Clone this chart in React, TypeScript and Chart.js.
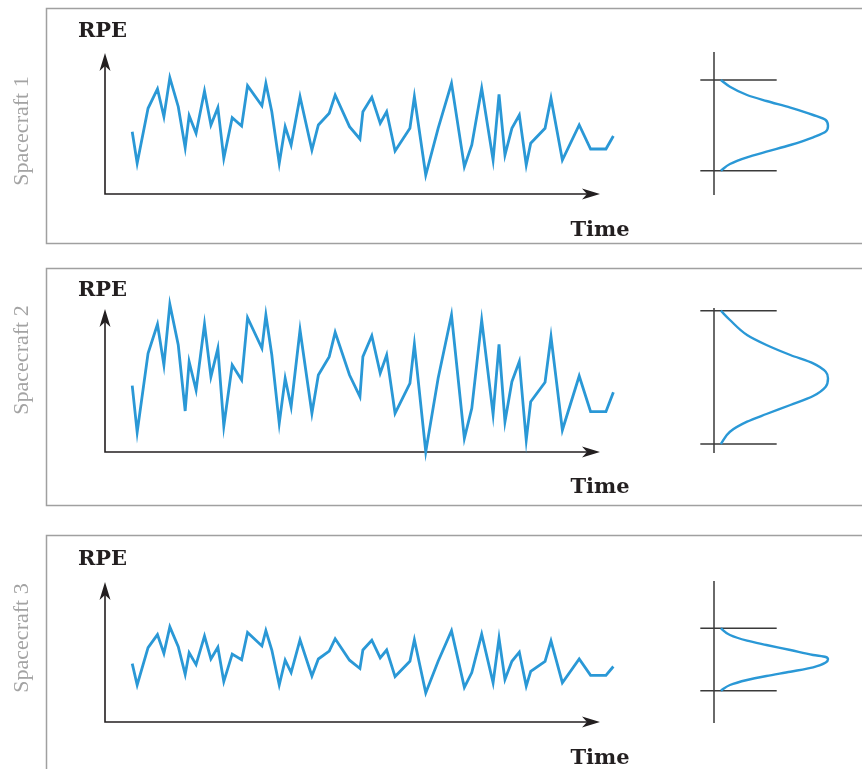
import React, { useEffect, useRef } from "react";
import { Chart, registerables } from "chart.js";

Chart.register(...registerables);

const W = 862;
const H = 769;

// ---------- data ----------
const PANEL_LABELS = ["Spacecraft 1", "Spacecraft 2", "Spacecraft 3"];
const Y_LABEL = "RPE";
const X_LABEL = "Time";

// time positions of the samples (arbitrary units; axis arrow ends at 100)
const TIME = [
  5.5, 6.5, 8.7, 10.6, 11.9, 13.1, 14.8, 16.2, 17.0, 18.4,
  20.1, 21.4, 22.8, 24.0, 25.7, 27.6, 28.8, 31.7, 32.5, 33.7,
  35.2, 36.4, 37.6, 39.4, 41.8, 43.1, 45.3, 46.5, 49.4, 51.5,
  52.1, 53.9, 55.6, 56.9, 58.6, 61.6, 62.5, 64.8, 67.3, 70.0,
  72.6, 74.1, 76.1, 78.4, 79.6, 80.8, 82.2, 83.7, 85.1, 86.0,
  88.9, 90.1, 92.4, 95.8, 98.1, 101.2, 102.7,
];

const RPE_1 = [
  6.23, 3.07, 8.57, 10.5, 7.73, 11.63, 8.73, 4.63, 7.83, 6.07,
  10.3, 6.9, 8.63, 3.57, 7.63, 6.8, 10.83, 8.83, 11.07, 8.23,
  3.07, 6.73, 4.9, 9.73, 4.4, 6.9, 8.07, 9.9, 6.73, 5.5,
  8.23, 9.67, 7.07, 8.23, 4.3, 6.57, 9.73, 1.9, 6.57, 11.07,
  2.73, 4.9, 10.57, 3.4, 9.97, 3.9, 6.57, 7.9, 2.9, 5.07,
  6.57, 9.57, 3.4, 6.9, 4.5, 4.5, 5.8,
];

const RPE_2 = [
  6.63, 1.97, 9.87, 12.77, 8.7, 14.77, 10.7, 4.1, 9.03, 6.2,
  12.77, 7.53, 10.37, 2.6, 8.7, 7.2, 13.43, 10.37, 13.7, 9.7,
  2.87, 7.37, 4.53, 12.2, 3.87, 7.7, 9.53, 11.97, 7.7, 5.53,
  9.53, 11.63, 7.87, 9.7, 3.87, 6.87, 10.77, 0.03, 7.37, 13.7,
  1.37, 4.37, 13.2, 3.77, 10.77, 3.03, 7.03, 9.05, 1.2, 5.03,
  6.97, 11.53, 2.2, 7.6, 4.03, 4.03, 5.97,
];

const RPE_3 = [
  5.84, 3.7, 7.43, 8.74, 6.86, 9.51, 7.54, 4.76, 6.93, 5.74,
  8.6, 6.3, 7.47, 4.04, 6.79, 6.23, 8.96, 7.61, 9.13, 7.2,
  3.7, 6.18, 4.94, 8.22, 4.6, 6.3, 7.09, 8.33, 6.18, 5.35,
  7.2, 8.18, 6.41, 7.2, 4.54, 6.07, 8.22, 2.91, 6.07, 9.13,
  3.47, 4.94, 8.79, 3.93, 8.38, 4.26, 6.07, 6.98, 3.59, 5.06,
  6.07, 8.11, 3.93, 6.3, 4.67, 4.67, 5.55,
];

// distribution curves (relative density vs RPE)
const BELL_DENSITY = [0.06, 0.14, 0.29, 0.46, 0.67, 0.87, 0.98, 1.0, 0.98, 0.87, 0.67, 0.46, 0.29, 0.14, 0.06];
const BELL_RPE_1 = [11.4, 10.73, 9.9, 9.3, 8.63, 7.9, 7.4, 6.8, 6.23, 5.67, 4.9, 4.23, 3.67, 3.0, 2.33];
const BELL_RPE_2 = [14.13, 13.2, 11.7, 10.7, 9.7, 8.87, 8.03, 7.37, 6.53, 5.6, 4.7, 3.8, 3.03, 2.03, 0.8];
const BELL_RPE_3 = [9.37, 8.7, 8.13, 7.7, 7.2, 6.7, 6.5, 6.27, 5.95, 5.47, 5.03, 4.6, 4.2, 3.7, 3.13];

// upper / lower bounds marked on the distributions
const BAND_1 = [11.4, 2.33];
const BAND_2 = [14.13, 0.8];
const BAND_3 = [9.37, 3.13];

const AXIS_TIME_END = 100;

// ---------- layout ----------
const BLUE = "#2a98d6";
const INK = "#231f20";
const PANELS = [
  { top: 8, bottom: 243, base: 194, tip: 14.1, labelY: 131, rpeBase: 37, timeBase: 236 },
  { top: 268, bottom: 505, base: 452, tip: 14.3, labelY: 360, rpeBase: 296, timeBase: 493 },
  { top: 535, bottom: 800, base: 722, tip: 14.0, labelY: 638, rpeBase: 565, timeBase: 764 },
];

function xRange(pxA: number, vA: number, pxB: number, vB: number) {
  const s = (pxB - pxA) / (vB - vA);
  const min = vA - pxA / s;
  return { min, max: min + W / s };
}
function yRange(pxA: number, vA: number, pxB: number, vB: number) {
  const s = (pxA - pxB) / (vB - vA);
  const max = vA + pxA / s;
  return { min: max - H / s, max };
}

function arrowHead(ctx: CanvasRenderingContext2D, x: number, y: number, dx: number, dy: number) {
  const L = 18, Wd = 5.5, N = 5;
  const px = -dy, py = dx;
  ctx.beginPath();
  ctx.moveTo(x, y);
  ctx.lineTo(x - dx * L + px * Wd, y - dy * L + py * Wd);
  ctx.lineTo(x - dx * (L - N), y - dy * (L - N));
  ctx.lineTo(x - dx * L - px * Wd, y - dy * L - py * Wd);
  ctx.closePath();
  ctx.fill();
}

const BANDS = [BAND_1, BAND_2, BAND_3];

const decorPlugin = {
  id: "decor",
  beforeDatasetsDraw(chart: any) {
    const ctx: CanvasRenderingContext2D = chart.ctx;
    const sx = chart.scales.x;
    const sd = chart.scales.xd;
    PANELS.forEach((p, i) => {
      const sy = chart.scales["y" + (i + 1)];
      ctx.save();
      // panel frame
      ctx.strokeStyle = "#a0a0a0";
      ctx.lineWidth = 1.5;
      ctx.strokeRect(46.5, p.top + 0.5, W, p.bottom - p.top);

      // side label
      ctx.save();
      ctx.translate(22, p.labelY);
      ctx.rotate(-Math.PI / 2);
      ctx.fillStyle = "#a3a3a3";
      ctx.font = '22px "Liberation Serif"';
      ctx.textAlign = "center";
      ctx.textBaseline = "middle";
      ctx.fillText(PANEL_LABELS[i], 0, 0);
      ctx.restore();

      // axes
      const x0 = sx.getPixelForValue(0);
      const xEnd = sx.getPixelForValue(AXIS_TIME_END);
      const y0 = sy.getPixelForValue(0);
      const yTop = sy.getPixelForValue(p.tip);
      ctx.strokeStyle = INK;
      ctx.fillStyle = INK;
      ctx.lineWidth = 1.6;
      ctx.beginPath();
      ctx.moveTo(x0, yTop + 6);
      ctx.lineTo(x0, y0);
      ctx.lineTo(xEnd - 6, y0);
      ctx.stroke();
      arrowHead(ctx, x0, yTop, 0, -1);
      arrowHead(ctx, xEnd, y0, 1, 0);

      // axis titles
      ctx.font = 'bold 21px "DejaVu Serif"';
      ctx.textAlign = "center";
      ctx.textBaseline = "alphabetic";
      ctx.fillText(Y_LABEL, 102.5, p.rpeBase);
      ctx.fillText(X_LABEL, 600, p.timeBase);

      // distribution axis + bounds
      const dx0 = sd.getPixelForValue(0);
      ctx.strokeStyle = "#3a3a3a";
      ctx.lineWidth = 1.5;
      ctx.beginPath();
      ctx.moveTo(dx0, yTop - 1);
      ctx.lineTo(dx0, y0 + 1);
      const l = sd.getPixelForValue(-0.12);
      const r = sd.getPixelForValue(0.55);
      BANDS[i].forEach((v) => {
        const yy = sy.getPixelForValue(v);
        ctx.moveTo(l, yy);
        ctx.lineTo(r, yy);
      });
      ctx.stroke();
      ctx.restore();
    });
  },
};

export default function App() {
  const ref = useRef<HTMLCanvasElement>(null);

  useEffect(() => {
    const series = [RPE_1, RPE_2, RPE_3];
    const bells = [BELL_RPE_1, BELL_RPE_2, BELL_RPE_3];
    const datasets: any[] = [];
    series.forEach((vals, i) => {
      datasets.push({
        label: PANEL_LABELS[i],
        data: TIME.map((t, j) => ({ x: t, y: vals[j] })),
        xAxisID: "x",
        yAxisID: "y" + (i + 1),
        borderColor: BLUE,
        borderWidth: 2.8,
        pointRadius: 0,
        tension: 0,
        fill: false,
        clip: false,
        borderJoinStyle: "miter",
      });
      datasets.push({
        label: PANEL_LABELS[i] + " distribution",
        data: BELL_DENSITY.map((d, j) => ({ x: d, y: bells[i][j] })),
        indexAxis: "y",
        xAxisID: "xd",
        yAxisID: "y" + (i + 1),
        borderColor: BLUE,
        borderWidth: 2.4,
        pointRadius: 0,
        cubicInterpolationMode: "monotone",
        fill: false,
        clip: false,
      });
    });

    const scales: any = {
      x: { type: "linear", display: false, bounds: "data", ...xRange(105, 0, 600, AXIS_TIME_END) },
      xd: { type: "linear", axis: "x", display: false, bounds: "data", ...xRange(714, 0, 828, 1) },
    };
    PANELS.forEach((p, i) => {
      scales["y" + (i + 1)] = {
        type: "linear",
        axis: "y",
        display: false,
        bounds: "data",
        ...yRange(p.base, 0, p.base - 100, 10),
      };
    });

    const chart = new Chart(ref.current as HTMLCanvasElement, {
      type: "line",
      data: { datasets },
      options: {
        animation: false,
        responsive: false,
        devicePixelRatio: 1,
        events: [],
        layout: { padding: 0, autoPadding: false },
        plugins: { legend: { display: false }, tooltip: { enabled: false }, title: { display: false } },
        scales,
      } as any,
      plugins: [decorPlugin],
    });
    return () => chart.destroy();
  }, []);

  return (
    <div style={{ position: "fixed", left: 0, top: 0, width: W, height: H, overflow: "hidden", background: "#fff" }}>
      <canvas ref={ref} width={W} height={H} style={{ display: "block" }} />
    </div>
  );
}
